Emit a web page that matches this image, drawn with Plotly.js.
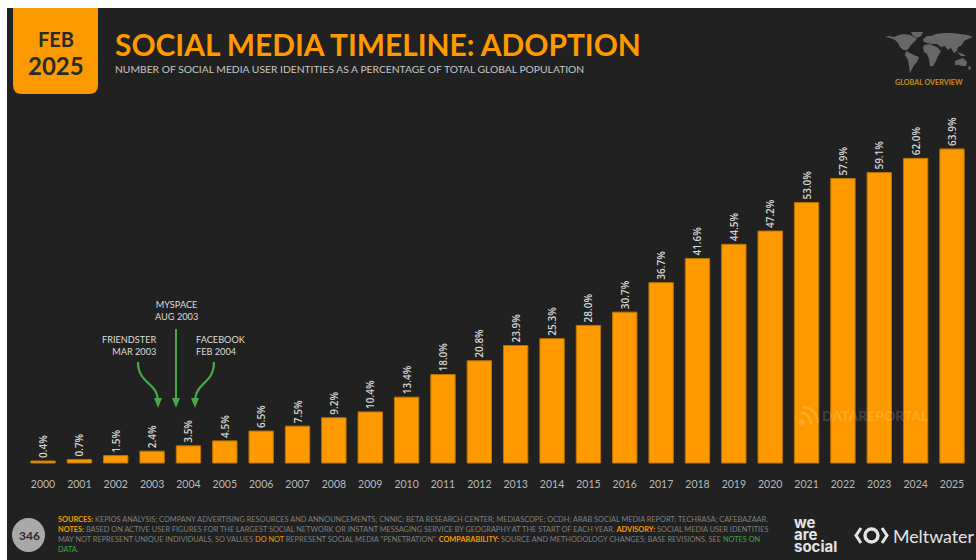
<!DOCTYPE html>
<html>
<head>
<meta charset="utf-8">
<script src="https://cdn.plot.ly/plotly-3.0.1.min.js"></script>
<style>html,body{margin:0;padding:0;background:#fff;overflow:hidden}#chart{width:976px;height:560px}</style>
</head>
<body>
<div id="chart"></div>
<script>
// Adoption series: share of world population with a social media identity
const years = ["2000","2001","2002","2003","2004","2005","2006","2007","2008","2009","2010","2011","2012","2013","2014","2015","2016","2017","2018","2019","2020","2021","2022","2023","2024","2025"];
const adoption = [0.4,0.7,1.5,2.4,3.5,4.5,6.5,7.5,9.2,10.4,13.4,18.0,20.8,23.9,25.3,28.0,30.7,36.7,41.6,44.5,47.2,53.0,57.9,59.1,62.0,63.9];
const milestones = [
  {name:"FRIENDSTER", date:"MAR 2003", x:158, y:345.5, align:"right", anchor:"right"},
  {name:"MYSPACE", date:"AUG 2003", x:176, y:310.5, align:"center", anchor:"center"},
  {name:"FACEBOOK", date:"FEB 2004", x:195, y:345.5, align:"left", anchor:"left"}
];
const footnotes = [
  '<b style="color:#f59a00">SOURCES:</b> KEPIOS ANALYSIS; COMPANY ADVERTISING RESOURCES AND ANNOUNCEMENTS; CNNIC; BETA RESEARCH CENTER; MEDIASCOPE; OCDH; ARAB SOCIAL MEDIA REPORT; TECHRASA; CAFEBAZAAR.',
  '<b style="color:#f59a00">NOTES:</b> BASED ON ACTIVE USER FIGURES FOR THE LARGEST SOCIAL NETWORK OR INSTANT MESSAGING SERVICE BY GEOGRAPHY AT THE START OF EACH YEAR. <b style="color:#f59a00">ADVISORY:</b> SOCIAL MEDIA USER IDENTITIES',
  'MAY NOT REPRESENT UNIQUE INDIVIDUALS, SO VALUES <span style="color:#f59a00">DO NOT</span> REPRESENT SOCIAL MEDIA "PENETRATION". <b style="color:#f59a00">COMPARABILITY:</b> SOURCE AND METHODOLOGY CHANGES; BASE REVISIONS. SEE <span style="color:#3fa648">NOTES ON</span>',
  '<span style="color:#3fa648">DATA.</span>'
];

const ORANGE = "#ff9900", DARK = "#212121", GREEN = "#46a84c", LOGO = "#e4e4e4", MARK = "rgba(255,255,255,0.16)";
const W = 976, H = 560;
const px = x => x / W, py = y => 1 - y / H;

// Builds an SVG path in paper coordinates from page-pixel commands
function path(cmds) {
  return cmds.map(c => {
    const [op, ...n] = c;
    const out = [];
    for (let i = 0; i < n.length; i += 2) out.push(px(n[i]).toFixed(5) + "," + py(n[i + 1]).toFixed(5));
    return op + out.join(" ");
  }).join(" ");
}
const paperShape = (cmds, extra) => Object.assign({type:"path", xref:"paper", yref:"paper", path:path(cmds), layer:"below", line:{width:0}}, extra);
const poly = pts => pts.map((p, i) => [i ? "L" : "M", p[0], p[1]]).concat([["Z"]]);

// Rough landmasses for the small world map in the corner
const land = [
  [[885,37],[889,36],[894,37],[899,35],[904,34],[910,35],[914,37],[917,39],[914,42],[911,45],[909,48],[907,50],[903,50],[900,47],[898,43],[895,40],[890,38]],
  [[911,32],[918,32],[923,32],[921,36],[917,38],[913,36]],
  [[906,51],[910,53],[914,55],[919,57],[917,62],[914,65],[912,69],[910,73],[909,66],[908,60],[905,55]],
  [[923,39],[927,36],[931,36],[936,34],[944,33],[952,33],[960,34],[968,35],[973,37],[968,39],[964,41],[962,45],[958,47],[957,51],[954,53],[951,48],[948,50],[945,46],[941,47],[937,44],[932,44],[927,43],[924,42]],
  [[924,45],[930,44],[934,46],[937,47],[941,51],[938,56],[936,61],[933,66],[930,66],[929,59],[927,54],[924,52],[923,48]],
  [[955,61],[960,59],[963,58],[967,62],[966,66],[962,66],[959,65],[955,65]],
  [[957,52],[963,54],[966,56],[961,56]],
  [[969,66],[971,67],[970,70],[968,69]]
];

const shapes = [
  {type:"rect", xref:"paper", yref:"paper", x0:px(7), x1:1, y0:0, y1:py(8), fillcolor:DARK, line:{width:0}, layer:"below"},
  // date badge with rounded lower corners
  paperShape([["M",13,8],["L",98,8],["L",98,85],["Q",98,94,89,94],["L",22,94],["Q",13,94,13,85],["Z"]], {fillcolor:"#fb9a00"}),
  // page number disc
  {type:"circle", xref:"paper", yref:"paper", x0:px(12), x1:px(45), y0:py(552), y1:py(518), fillcolor:"#a9a9a9", line:{width:0}, layer:"below"},
  // launch arrows
  paperShape([["M",138,362],["C",138,384,157,382,158,400]], {line:{color:GREEN,width:2.2}, layer:"above"}),
  paperShape([["M",176,329],["L",176,400]], {line:{color:GREEN,width:2}, layer:"above"}),
  paperShape([["M",214,362],["C",214,384,196,382,195,400]], {line:{color:GREEN,width:2.2}, layer:"above"}),
  paperShape(poly([[154,398],[162,398],[158,408]]), {fillcolor:GREEN, layer:"above"}),
  paperShape(poly([[172,398],[180,398],[176,408]]), {fillcolor:GREEN, layer:"above"}),
  paperShape(poly([[191,398],[199,398],[195,408]]), {fillcolor:GREEN, layer:"above"}),
  // feed glyph beside the watermark
  {type:"circle", xref:"paper", yref:"paper", x0:px(799), x1:px(805), y0:py(425), y1:py(419), fillcolor:MARK, line:{width:0}, layer:"above"},
  paperShape([["M",801,413],["Q",810,413,811,424]], {line:{color:MARK,width:2.5}, layer:"above"}),
  paperShape([["M",803,407],["Q",817,408,818,423]], {line:{color:MARK,width:2.5}, layer:"above"}),
  // Meltwater mark
  paperShape([["M",861,528],["L",856,535.5],["L",861,543]], {line:{color:LOGO,width:3}, layer:"above"}),
  paperShape([["M",882,528],["L",887,535.5],["L",882,543]], {line:{color:LOGO,width:3}, layer:"above"}),
  {type:"circle", xref:"paper", yref:"paper", x0:px(865), x1:px(878), y0:py(542), y1:py(529), line:{color:LOGO,width:3.4}, layer:"above"}
].concat(land.map(l => paperShape(poly(l), {fillcolor:"#676767"})));

const note = (x, y, text, size, color, opts) => Object.assign({
  xref:"paper", yref:"paper", x:px(x), y:py(y), text, showarrow:false,
  xanchor:"left", yanchor:"middle", font:{family:"Lato", size, color}, borderpad:0
}, opts);

const annotations = [
  note(55.5, 39.5, "<b>FEB</b>", 20, "#2a2a2a", {xanchor:"center"}),
  note(55.5, 65.5, "<b>2025</b>", 24, "#2a2a2a", {xanchor:"center"}),
  note(114, 43.5, "<b>SOCIAL MEDIA TIMELINE: ADOPTION</b>", 29.9, ORANGE),
  note(114, 69, "NUMBER OF SOCIAL MEDIA USER IDENTITIES AS A PERCENTAGE OF TOTAL GLOBAL POPULATION", 10.3, "#c6c6c6"),
  note(929, 82, "<b>GLOBAL OVERVIEW</b>", 7.2, "#c98a1e", {xanchor:"center"}),
  note(29, 535.5, "<b>346</b>", 12, "#2b2b2b", {xanchor:"center"}),
  note(875, 415, "<b>DATAREPORTAL</b>", 14, MARK, {xanchor:"center"}),
  note(793, 522.5, "<b>we</b>", 15, LOGO, {font:{family:"Inter", size:15, color:LOGO}}),
  note(793, 534.5, "<b>are</b>", 15, LOGO, {font:{family:"Inter", size:15, color:LOGO}}),
  note(793, 546.5, "<b>social</b>", 15, LOGO, {font:{family:"Inter", size:15, color:LOGO}}),
  note(892, 536, "Meltwater", 17.8, LOGO)
];
milestones.forEach(m => {
  annotations.push(note(m.x, m.y, m.name + "<br>" + m.date, 9.2, "#dcdcdc",
    {xanchor:m.anchor, align:m.align}));
});
footnotes.forEach((t, i) => annotations.push(note(57, 519.5 + i * 10, t, 7.36, "#7f7f7f")));

Plotly.newPlot("chart", [{
  type:"bar",
  x:years,
  y:adoption,
  width:0.67,
  marker:{color:ORANGE, line:{color:"#b87500", width:1}},
  text:adoption.map(v => v.toFixed(1) + "%"),
  textposition:"outside",
  textangle:-90,
  cliponaxis:false,
  constraintext:"none",
  textfont:{family:"Open Sans", stretch:"condensed", weight:600, size:10, color:"#d6d6d6"},
  hoverinfo:"x+y"
}], {
  width:W, height:H,
  margin:{l:0, r:0, t:0, b:0},
  paper_bgcolor:"#ffffff",
  plot_bgcolor:"rgba(0,0,0,0)",
  showlegend:false,
  xaxis:{
    type:"category", range:[-1.183, 25.66], anchor:"free", position:0.15,
    tickvals:years, ticktext:years, ticklen:0, showline:false, showgrid:false, zeroline:false,
    tickfont:{family:"Lato", size:10.5, color:"#b9b9b9"}, automargin:false
  },
  yaxis:{range:[-19.74, 94.22], visible:false, showgrid:false, zeroline:false, automargin:false},
  shapes, annotations
}, {displayModeBar:false, staticPlot:true});
</script>
</body>
</html>
